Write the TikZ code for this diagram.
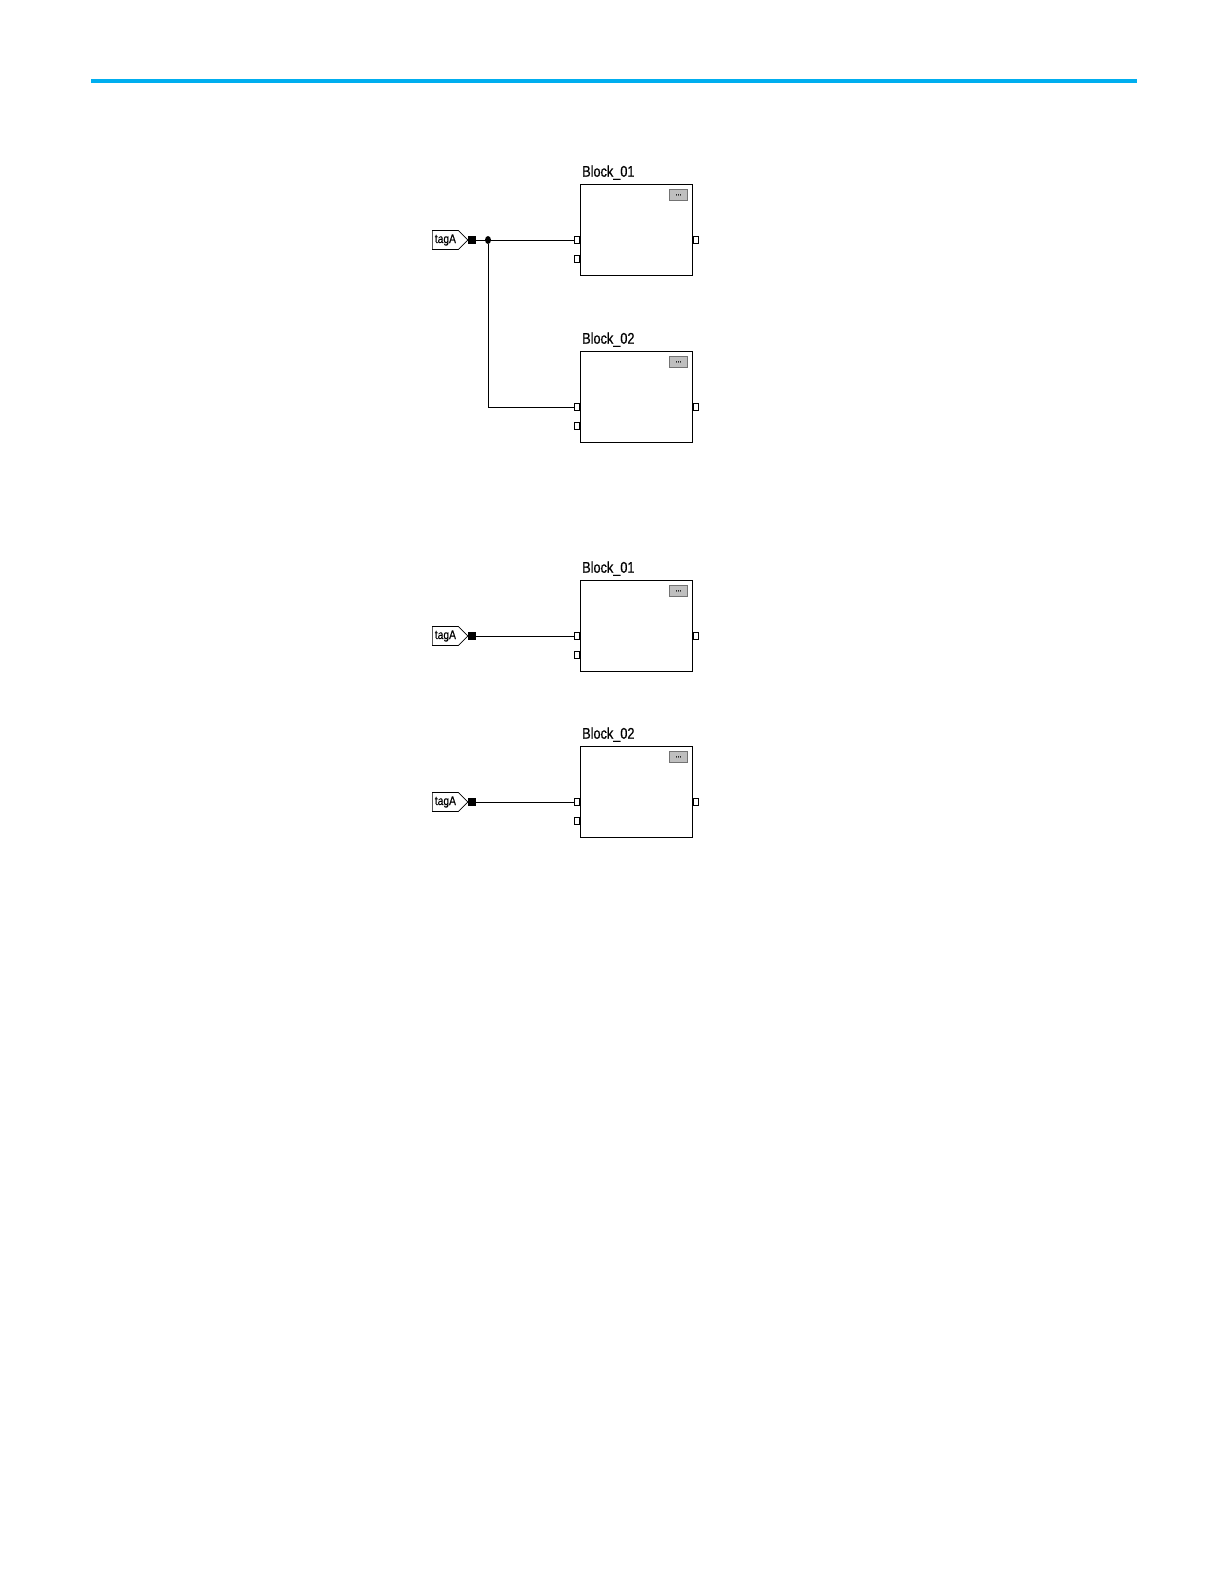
\documentclass[tikz,border=0pt]{standalone}
\usepackage{fontspec}
\setmainfont[FakeStretch=0.82, FakeBold=0.6]{Liberation Sans}
\usetikzlibrary{positioning, shapes.symbols, shapes.geometric}
\definecolor{rulecyan}{RGB}{0,174,239}

\begin{document}
\begin{tikzpicture}[
    x=1pt, y=-1pt,
    block/.style={rectangle, draw, line width=0.9pt, inner sep=0, minimum width=112pt, minimum height=91pt, anchor=north west},
    blocklabel/.style={font=\fontsize{15.5}{16}\selectfont, inner sep=0, anchor=south west},
    port/.style={rectangle, draw, line width=0.6pt, fill=white, inner sep=0, minimum width=5.5pt, minimum height=7pt},
    btn/.style={rectangle, draw=black!55, fill=black!25, line width=0.8pt, inner sep=0, minimum width=18pt, minimum height=11pt, font=\fontsize{9}{9}\selectfont, anchor=north east},
    tag/.style={signal, signal to=east, draw, line width=0.7pt, inner sep=2.5pt, minimum height=19pt, font=\fontsize{12.5}{13}\selectfont},
    pin/.style={rectangle, fill=black, inner sep=0, minimum size=8pt},
    wire/.style={line width=0.9pt}
]
    \useasboundingbox (0,0) rectangle (1224,1584);
    \draw[rulecyan, line width=4pt] (91,81) -- (1137,81);

    % upper pair, shared tag
    \node[block] (b1) at (580,184) {};
    \node[block] (b2) at (580,351) {};
    % lower pair, one tag each
    \node[block] (b3) at (580,580) {};
    \node[block] (b4) at (580,746) {};

    \foreach \b/\t in {b1/Block\_01, b2/Block\_02, b3/Block\_01, b4/Block\_02} {
        \node[blocklabel] (\b lbl) at ([xshift=2pt, yshift=4pt]\b.north west) {\t};
        \node[btn] (\b btn) at ([xshift=-5pt, yshift=-5pt]\b.north east) {...};
        \node[port, anchor=east] (\b in1) at ([yshift=-56pt]\b.north west) {};
        \node[port, anchor=east] (\b in2) at ([yshift=-75pt]\b.north west) {};
        \node[port, anchor=west] (\b out) at ([yshift=-56pt]\b.north east) {};
    }

    \node[tag, anchor=west] (t1) at (b1in1 -| 432,0) {tagA};
    \node[tag, anchor=west] (t3) at (b3in1 -| 432,0) {tagA};
    \node[tag, anchor=west] (t4) at (b4in1 -| 432,0) {tagA};
    \foreach \t in {t1, t3, t4}
        \node[pin, anchor=west] (\t pin) at ([xshift=-1pt]\t.east) {};

    \node[ellipse, fill=black, inner sep=0, minimum width=6pt, minimum height=8pt] (jn) at (b1in1 -| 488,0) {};

    \draw[wire] (t1pin) -- (jn) -- (b1in1);
    \draw[wire] (jn) |- (b2in1);
    \draw[wire] (t3pin) -- (b3in1);
    \draw[wire] (t4pin) -- (b4in1);
\end{tikzpicture}
\end{document}
